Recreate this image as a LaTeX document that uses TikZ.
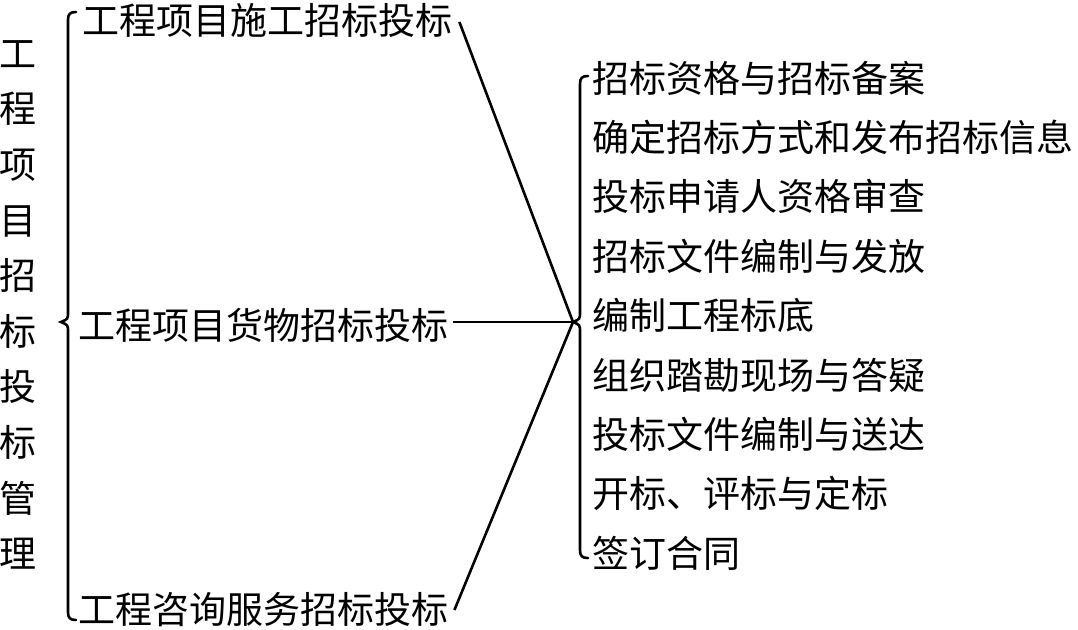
\documentclass[tikz,border=0pt]{standalone}
\usepackage{fontspec}
\newfontfamily\cjk{Noto Sans CJK SC}
\begin{document}
\begin{tikzpicture}[x=1pt,y=-1pt,
  every node/.style={inner sep=0pt, font=\cjk\fontsize{37}{44}\selectfont},
  item/.style={anchor=west},
  vert/.style={align=center, text width=37pt, font=\cjk\fontsize{37}{55.6}\selectfont},
  link/.style={line width=2.6pt},
  brace/.style={line width=2.6pt, line cap=round}]
\useasboundingbox (0,0) rectangle (1078,629);
\fill[white] (0,0) rectangle (1078,629);
\node[vert] (title) at (18,305) {工\\程\\项\\目\\招\\标\\投\\标\\管\\理};
\node[item] (t1) at (82,20) {工程项目施工招标投标};
\node[item] (t2) at (78,325) {工程项目货物招标投标};
\node[item] (t3) at (78,610) {工程咨询服务招标投标};
\node[item] (r1) at (592,78) {招标资格与招标备案};
\node[item] (r2) at (592,137.4) {确定招标方式和发布招标信息};
\node[item] (r3) at (592,196.8) {投标申请人资格审查};
\node[item] (r4) at (592,256.2) {招标文件编制与发放};
\node[item] (r5) at (592,315.6) {编制工程标底};
\node[item] (r6) at (592,375) {组织踏勘现场与答疑};
\node[item] (r7) at (592,434.4) {投标文件编制与送达};
\node[item] (r8) at (592,493.8) {开标、评标与定标};
\node[item] (r9) at (592,553.2) {签订合同};
\coordinate (ltip) at (61,322);
\coordinate (rtip) at (573,322);
\draw[brace] (76,12) .. controls (70,12) and (68,14) .. (68,20) -- (68,312)
  .. controls (68,319) .. (ltip) .. controls (68,325) .. (68,332) -- (68,612)
  .. controls (68,618) and (70,620) .. (76,620);
\draw[brace] (588,76) .. controls (582,76) and (580,78) .. (580,84) -- (580,312)
  .. controls (580,319) .. (rtip) .. controls (580,325) .. (580,332) -- (580,550)
  .. controls (580,556) and (582,558) .. (588,558);
\draw[link] ([xshift=7pt,yshift=-2pt]t1.east) -- (rtip);
\draw[link] ([xshift=5pt,yshift=3pt]t2.east) -- (rtip);
\draw[link] ([xshift=6pt]t3.east) -- (rtip);
\end{tikzpicture}
\end{document}
